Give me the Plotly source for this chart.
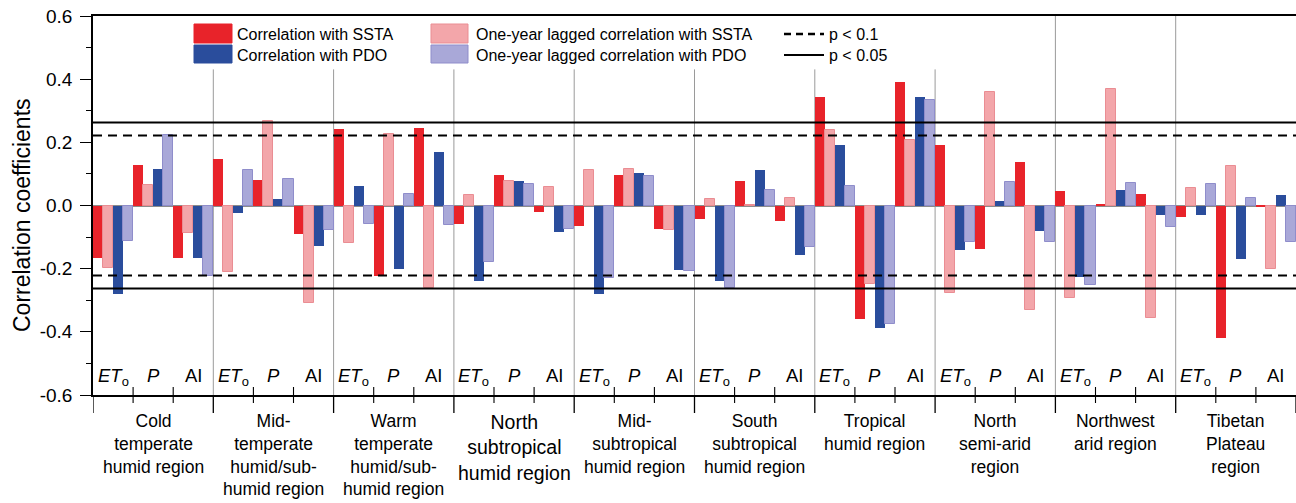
import plotly.graph_objects as go

# ---------------- data ----------------
regions = [
    "Cold<br>temperate<br>humid region",
    "Mid-<br>temperate<br>humid/sub-<br>humid region",
    "Warm<br>temperate<br>humid/sub-<br>humid region",
    "North<br>subtropical<br>humid region",
    "Mid-<br>subtropical<br>humid region",
    "South<br>subtropical<br>humid region",
    "Tropical<br>humid region",
    "North<br>semi-arid<br>region",
    "Northwest<br>arid region",
    "Tibetan<br>Plateau<br>region",
]
variables = ["<i>ET</i><sub>o</sub>", "<i>P</i>", "AI"]

ssta = [-0.167, 0.129, -0.167, 0.147, 0.081, -0.091, 0.242, -0.224, 0.245,
        -0.059, 0.098, -0.020, -0.066, 0.098, -0.075, -0.042, 0.079, -0.049,
        0.342, -0.360, 0.390, 0.191, -0.138, 0.139, 0.045, 0.005, 0.036,
        -0.035, -0.421, -0.002]
lag_ssta = [-0.199, 0.065, -0.088, -0.211, 0.269, -0.309, -0.120, 0.226, -0.262,
            0.032, 0.077, 0.059, 0.111, 0.115, -0.078, 0.020, 0.003, 0.024,
            0.238, -0.250, 0.207, -0.277, 0.360, -0.331, -0.294, 0.370, -0.355,
            0.054, 0.125, -0.201]
pdo = [-0.281, 0.117, -0.165, -0.024, 0.021, -0.127, 0.063, -0.202, 0.168,
       -0.238, 0.077, -0.083, -0.281, 0.102, -0.203, -0.240, 0.114, -0.156,
       0.192, -0.388, 0.344, -0.141, 0.014, -0.080, -0.225, 0.048, -0.029,
       -0.029, -0.169, 0.034]
lag_pdo = [-0.112, 0.222, -0.222, 0.111, 0.084, -0.076, -0.057, 0.035, -0.062,
           -0.178, 0.068, -0.073, -0.231, 0.095, -0.208, -0.261, 0.048, -0.130,
           0.061, -0.374, 0.335, -0.117, 0.076, -0.117, -0.253, 0.072, -0.069,
           0.069, 0.024, -0.117]

sig_p10 = 0.222
sig_p05 = 0.263

y_tickvals = [-0.6, -0.4, -0.2, 0.0, 0.2, 0.4, 0.6]
y_ticktext = ["-0.6", "-0.4", "-0.2", "0.0", "0.2", "0.4", "0.6"]

series_names = ["Correlation with SSTA", "One-year lagged correlation with SSTA",
                "Correlation with PDO", "One-year lagged correlation with PDO"]

# ---------------- styling ----------------
W, H = 1296, 503
ML, MR, MT, MB = 93, 0, 16, 108
PW, PH = W - ML - MR, H - MT - MB
FONT = "Arial, 'Liberation Sans', Helvetica, sans-serif"

RED = "#E8232A"
PINK = "#F3A6AA"
BLUE = "#2A4D9C"
PURPLE = "#A9A8D8"


def px(x):
    return (x - ML) / PW


def py(y):
    return (H - MB - y) / PH


nv = len(variables)
x_pos = [r * nv + v for r in range(len(regions)) for v in range(nv)]

fig = go.Figure()
series = [
    (ssta, RED, RED, 0),
    (lag_ssta, PINK, "#EA8D93", 1),
    (pdo, BLUE, BLUE, 0),
    (lag_pdo, PURPLE, "#8F8DCB", 1),
]
for (vals, col, lcol, lw), name in zip(series, series_names):
    fig.add_trace(go.Bar(x=x_pos, y=vals, name=name, marker_color=col,
                         marker_line_color=lcol, marker_line_width=lw,
                         showlegend=False))

shapes = []
# significance lines
for v in (sig_p05, -sig_p05):
    shapes.append(dict(type="line", xref="paper", yref="y", x0=0, x1=1, y0=v, y1=v,
                       line=dict(color="black", width=2), layer="above"))
for v in (sig_p10, -sig_p10):
    shapes.append(dict(type="line", xref="paper", yref="y", x0=0, x1=1, y0=v, y1=v,
                       line=dict(color="black", width=2, dash="9px,6px"), layer="above"))

n_reg = len(regions)
for k in range(1, n_reg):
    xb = k * nv - 0.5
    ytop = 0.431 if k <= 7 else 0.6
    shapes.append(dict(type="line", xref="x", yref="y", x0=xb, x1=xb, y0=-0.6, y1=ytop,
                       line=dict(color="#9a9a9a", width=1), layer="below"))
# region ticks below axis
for k in range(0, n_reg + 1):
    xb = k * nv - 0.5
    shapes.append(dict(type="line", xref="x", yref="paper", x0=xb, x1=xb,
                       y0=0, y1=py(413), line=dict(color="black", width=1.3)))
# variable ticks
for r in range(n_reg):
    for j in range(1, nv):
        xb = r * nv + j - 0.5
        shapes.append(dict(type="line", xref="x", yref="paper", x0=xb, x1=xb,
                           y0=py(387), y1=py(403), line=dict(color="black", width=1.1)))

# legend swatches (custom)
leg_boxes = [(194, 232, 24, 43, RED, RED), (194, 232, 45, 63, BLUE, BLUE),
             (431, 468, 24, 43, PINK, "#EA8D93"), (431, 468, 45, 63, PURPLE, "#8F8DCB")]
for x0, x1, y0, y1, c, lc in leg_boxes:
    shapes.append(dict(type="rect", xref="paper", yref="paper", x0=px(x0), x1=px(x1),
                       y0=py(y0), y1=py(y1), fillcolor=c, line=dict(color=lc, width=1)))
shapes.append(dict(type="line", xref="paper", yref="paper", x0=px(784), x1=px(824),
                   y0=py(34), y1=py(34), line=dict(color="black", width=2.5, dash="7px,5px")))
shapes.append(dict(type="line", xref="paper", yref="paper", x0=px(784), x1=px(824),
                   y0=py(55), y1=py(55), line=dict(color="black", width=1.8)))

annotations = []
leg_texts = [(235, 34, series_names[0]), (235, 55, series_names[2]),
             (474, 34, series_names[1]), (474, 55, series_names[3]),
             (827, 34, "p < 0.1"), (827, 55, "p < 0.05")]
for x, y, t in leg_texts:
    annotations.append(dict(text=t, xref="paper", yref="paper", x=px(x), y=py(y),
                            xanchor="left", yanchor="middle", showarrow=False,
                            font=dict(size=16, color="black", family=FONT)))

# variable labels inside the plot
for r in range(n_reg):
    for j, v in enumerate(variables):
        annotations.append(dict(text=v, xref="x", yref="y", x=r * nv + j, y=-0.499,
                                xanchor="center", yanchor="top", showarrow=False,
                                font=dict(size=18.5, color="black", family=FONT)))

# region labels
for r, name in enumerate(regions):
    big = name.startswith("North<br>subtropical")
    annotations.append(dict(text=name, xref="x", yref="paper", x=r * nv + 1,
                            y=py(409), xanchor="center", yanchor="top",
                            showarrow=False,
                            font=dict(size=19.5 if big else 17.5, color="black", family=FONT)))

# y title
annotations.append(dict(text="Correlation coefficients", xref="paper", yref="paper",
                        x=px(22), y=py(215), textangle=-90, showarrow=False,
                        xanchor="center", yanchor="middle",
                        font=dict(size=23, color="black", family=FONT)))

fig.update_layout(
    width=W, height=H,
    margin=dict(l=ML, r=MR, t=MT, b=MB),
    paper_bgcolor="white", plot_bgcolor="white",
    barmode="group", bargap=0, bargroupgap=0,
    shapes=shapes, annotations=annotations,
    font=dict(family=FONT, color="black"),
    xaxis=dict(range=[-0.5, len(x_pos) - 0.5], showticklabels=False, ticks="",
               showgrid=False, zeroline=False, showline=True, mirror=True,
               linecolor="black", linewidth=1.5, fixedrange=True),
    yaxis=dict(range=[-0.6, 0.6], tickvals=y_tickvals, ticktext=y_ticktext,
               ticks="outside", ticklen=11, tickwidth=1.2, tickcolor="black",
               minor=dict(dtick=0.1, ticks="outside", ticklen=5, tickcolor="black", tickwidth=1.2,
                          showgrid=False),
               ticklabelstandoff=4,
               tickfont=dict(size=19, color="black", family=FONT),
               showgrid=False, zeroline=True, zerolinecolor="#8c8c8c", zerolinewidth=1.6,
               showline=True, linecolor="black", linewidth=1.5, fixedrange=True),
)

fig.write_html("out.html")
